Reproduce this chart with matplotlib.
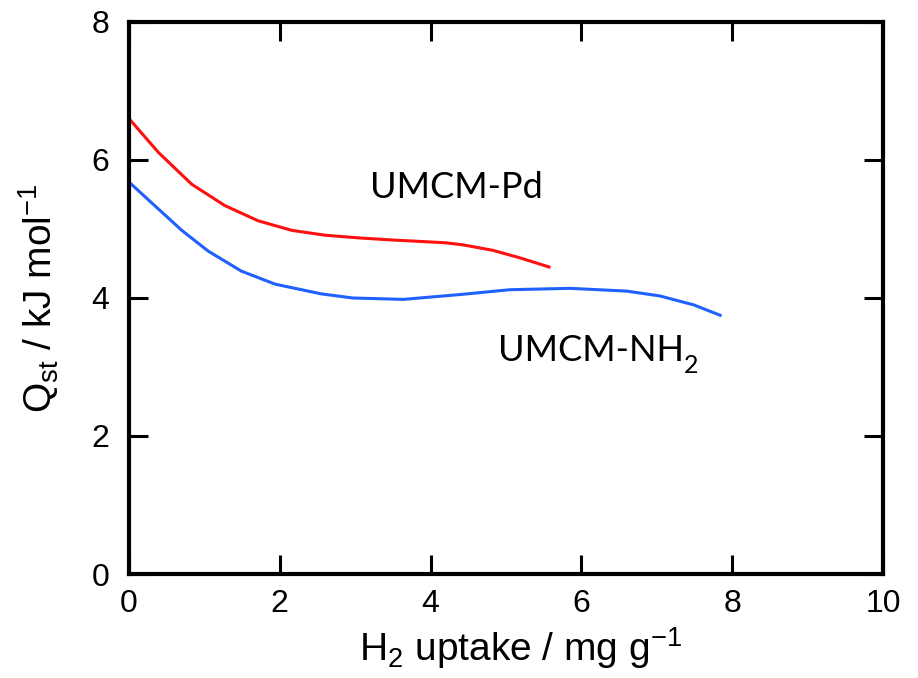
import matplotlib
matplotlib.use("Agg")
import matplotlib.pyplot as plt

# Data
pd_x = [0.0, 0.39, 0.83, 1.27, 1.71, 2.16, 2.60, 3.06, 3.50, 3.86, 4.20, 4.43, 4.83, 5.19, 5.57]
pd_y = [6.60, 6.11, 5.65, 5.34, 5.12, 4.98, 4.91, 4.87, 4.84, 4.82, 4.80, 4.77, 4.69, 4.58, 4.45]

nh2_x = [0.0, 0.39, 0.70, 1.05, 1.49, 1.94, 2.55, 2.97, 3.64, 4.39, 5.05, 5.85, 6.60, 7.04, 7.49, 7.84]
nh2_y = [5.68, 5.29, 4.98, 4.68, 4.39, 4.20, 4.06, 4.00, 3.98, 4.05, 4.12, 4.14, 4.10, 4.03, 3.90, 3.75]

x_ticks = [0, 2, 4, 6, 8, 10]
y_ticks = [0, 2, 4, 6, 8]

plt.rcParams['font.family'] = ['Liberation Sans', 'DejaVu Sans']
plt.rcParams['mathtext.fontset'] = 'custom'
plt.rcParams['mathtext.rm'] = 'Liberation Sans'
plt.rcParams['mathtext.it'] = 'Liberation Sans:italic'

fig = plt.figure(figsize=(9.18, 6.78), dpi=100)
ax = fig.add_axes([129/918, 1-574/678, (883-129)/918, (574-22)/678])

ax.plot(pd_x, pd_y, color='#ff1010', lw=2.2, solid_joinstyle='round')
ax.plot(nh2_x, nh2_y, color='#2060ff', lw=2.2, solid_joinstyle='round')

ax.set_xlim(0, 10)
ax.set_ylim(0, 8)
ax.set_xticks(x_ticks)
ax.set_yticks(y_ticks)
ax.tick_params(direction='in', length=14, width=2.2, labelsize=23,
               top=True, right=True, colors='black')
ax.tick_params(axis='y', pad=14)
ax.tick_params(axis='x', pad=11)
for s in ax.spines.values():
    s.set_linewidth(3)

ax.set_xlabel(r'$\mathrm{H_2}$ uptake / mg g$^{-1}$', fontsize=28, labelpad=4)
ax.xaxis.label.set_x(0.519)
ax.set_ylabel(r'$\mathrm{Q_{st}}$ / kJ mol$^{-1}$', fontsize=28, labelpad=22)

ax.text(3.20, 5.60, 'UMCM-Pd', fontsize=26, family=['Lato', 'DejaVu Sans'],
        va='center', ha='left')
t = ax.text(4.89, 3.24, 'UMCM-NH', fontsize=26, family=['Lato', 'DejaVu Sans'],
            va='center', ha='left')
ax.annotate('2', xy=(1.0, 0.05), xycoords=t, fontsize=18,
            family=['Lato', 'DejaVu Sans'], va='center', ha='left')

fig.savefig('out.png', dpi=100)
